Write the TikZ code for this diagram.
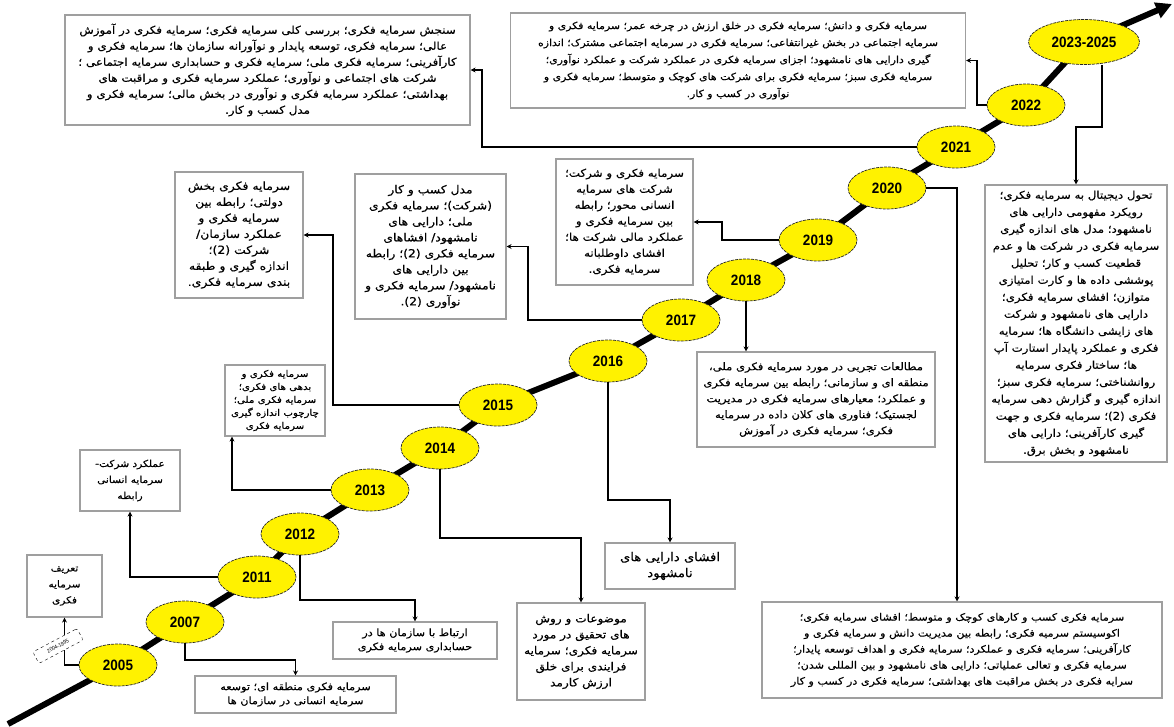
\documentclass[tikz,border=0pt]{standalone}
\usepackage{fontspec}
\TeXXeTstate=1
\newfontfamily\pfont[Script=Arabic,FakeStretch=1.1,FakeBold=0.4]{DejaVu Sans}
\newfontfamily\numfont[FakeStretch=0.9]{Liberation Sans}
\usetikzlibrary{shapes.geometric,arrows.meta}
\newcommand{\RL}[1]{\beginR#1\endR}
\begin{document}
\begin{tikzpicture}[x=1pt,y=-1pt,
  pbox/.style={draw=gray!75, line width=1.1pt, fill=white, align=center, inner sep=1pt},
  fs/.style 2 args={font=\pfont\fontsize{#1}{#2}\selectfont},
  yr/.style={ellipse, draw=black!85, dash pattern=on 3pt off 1pt, line width=0.7pt, fill=yellow,
     minimum width=78pt, minimum height=42pt, inner sep=0pt,
     font=\numfont\bfseries\fontsize{15}{15}\selectfont},
  conn/.style={draw, line width=1.3pt, -{Stealth[length=5pt,width=5pt]}},
  tl/.style={draw, line width=6pt, line join=round, -{Triangle[length=16pt,width=16pt]}}
]
\useasboundingbox (0,0) rectangle (1174,726);
% timeline points
\coordinate (p2005) at (118,665);
\coordinate (p2007) at (185,622);
\coordinate (p2011) at (257,577);
\coordinate (p2012) at (300,534);
\coordinate (p2013) at (370,490);
\coordinate (p2014) at (440,448);
\coordinate (p2015) at (498,405);
\coordinate (p2016) at (608,361);
\coordinate (p2017) at (681,320);
\coordinate (p2018) at (746,280);
\coordinate (p2019) at (818,240);
\coordinate (p2020) at (887,188);
\coordinate (p2021) at (956,147);
\coordinate (p2022) at (1026,105);
\coordinate (p2023) at (1084,42);
\coordinate (tstart) at (8,724);
\coordinate (tend) at (1172,4);
\draw[tl] (tstart) -- (p2005) -- (p2007) -- (p2011) -- (p2012) -- (p2013) -- (p2014) -- (p2015)
  -- (p2016) -- (p2017) -- (p2018) -- (p2019) -- (p2020) -- (p2021) -- (p2022) -- (p2023) -- (tend);
% ellipses
\node[yr] (e2005) at (p2005) {2005};
\node[yr] (e2007) at (p2007) {2007};
\node[yr] (e2011) at (p2011) {2011};
\node[yr] (e2012) at (p2012) {2012};
\node[yr] (e2013) at (p2013) {2013};
\node[yr] (e2014) at (p2014) {2014};
\node[yr] (e2015) at (p2015) {2015};
\node[yr] (e2016) at (p2016) {2016};
\node[yr] (e2017) at (p2017) {2017};
\node[yr] (e2018) at (p2018) {2018};
\node[yr] (e2019) at (p2019) {2019};
\node[yr] (e2020) at (p2020) {2020};
\node[yr] (e2021) at (p2021) {2021};
\node[yr] (e2022) at (p2022) {2022};
\node[yr, minimum width=111pt, minimum height=45pt] (e2023) at (p2023) {2023-2025};
% boxes
\node[pbox, fs={10.8}{16}, minimum width=405, minimum height=110] (B1) at (267.5,70) {%
\RL{سنجش سرمایه فکری؛ بررسی کلی سرمایه فکری؛ سرمایه فکری در آموزش}\\
\RL{عالی؛ سرمایه فکری، توسعه پایدار و نوآورانه سازمان ها؛ سرمایه فکری و}\\
\RL{کارآفرینی؛ سرمایه فکری ملی؛ سرمایه فکری و حسابداری سرمایه اجتماعی ؛}\\
\RL{شرکت های اجتماعی و نوآوری؛ عملکرد سرمایه فکری و مراقبت های}\\
\RL{بهداشتی؛ عملکرد سرمایه فکری و نوآوری در بخش مالی؛ سرمایه فکری و}\\
\RL{مدل کسب و کار.}};
\node[pbox, fs={9.9}{17}, minimum width=455, minimum height=95] (B2) at (738,60.5) {%
\RL{سرمایه فکری و دانش؛ سرمایه فکری در خلق ارزش در چرخه عمر؛ سرمایه فکری و}\\
\RL{سرمایه اجتماعی در بخش غیرانتفاعی؛ سرمایه فکری در سرمایه اجتماعی مشترک؛ اندازه}\\
\RL{گیری دارایی های نامشهود؛ اجزای سرمایه فکری در عملکرد شرکت و عملکرد نوآوری؛}\\
\RL{سرمایه فکری سبز؛ سرمایه فکری برای شرکت های کوچک و متوسط؛ سرمایه فکری و}\\
\RL{نوآوری در کسب و کار.}};
\node[pbox, fs={10.7}{17}, minimum width=182, minimum height=277] (BR) at (1076,323.5) {%
\RL{تحول دیجیتال به سرمایه فکری؛}\\
\RL{رویکرد مفهومی دارایی های}\\
\RL{نامشهود؛ مدل های اندازه گیری}\\
\RL{سرمایه فکری در شرکت ها و عدم}\\
\RL{قطعیت کسب و کار؛ تحلیل}\\
\RL{پوششی داده ها و کارت امتیازی}\\
\RL{متوازن؛ افشای سرمایه فکری؛}\\
\RL{دارایی های نامشهود و شرکت}\\
\RL{های زایشی دانشگاه ها؛ سرمایه}\\
\RL{فکری و عملکرد پایدار استارت آپ}\\
\RL{ها؛ ساختار فکری سرمایه}\\
\RL{روانشناختی؛ سرمایه فکری سبز؛}\\
\RL{اندازه گیری و گزارش دهی سرمایه}\\
\RL{فکری (2)؛ سرمایه فکری و جهت}\\
\RL{گیری کارآفرینی؛ دارایی های}\\
\RL{نامشهود و بخش برق.}};
\node[pbox, fs={11.3}{16}, minimum width=128, minimum height=126] (B2015) at (239,235) {%
\RL{سرمایه فکری بخش}\\
\RL{دولتی؛ رابطه بین}\\
\RL{سرمایه فکری و}\\
\RL{عملکرد سازمان/}\\
\RL{شرکت (2)؛}\\
\RL{اندازه گیری و طبقه}\\
\RL{بندی سرمایه فکری.}};
\node[pbox, fs={11.2}{16}, minimum width=151, minimum height=145] (B2017) at (430.5,246.5) {%
\RL{مدل کسب و کار}\\
\RL{(شرکت)؛ سرمایه فکری}\\
\RL{ملی؛ دارایی های}\\
\RL{نامشهود/ افشاهای}\\
\RL{سرمایه فکری (2)؛ رابطه}\\
\RL{بین دارایی های}\\
\RL{نامشهود/ سرمایه فکری و}\\
\RL{نوآوری (2).}};
\node[pbox, fs={10.8}{16}, minimum width=137, minimum height=126] (B2019) at (624.5,222) {%
\RL{سرمایه فکری و شرکت؛}\\
\RL{شرکت های سرمایه}\\
\RL{انسانی محور؛ رابطه}\\
\RL{بین سرمایه فکری و}\\
\RL{عملکرد مالی شرکت ها؛}\\
\RL{افشای داوطلبانه}\\
\RL{سرمایه فکری.}};
\node[pbox, fs={10.5}{16}, minimum width=238, minimum height=95] (B2018) at (816,399.5) {%
\RL{مطالعات تجربی در مورد سرمایه فکری ملی،}\\
\RL{منطقه ای و سازمانی؛ رابطه بین سرمایه فکری}\\
\RL{و عملکرد؛ معیارهای سرمایه فکری در مدیریت}\\
\RL{لجستیک؛ فناوری های کلان داده در سرمایه}\\
\RL{فکری؛ سرمایه فکری در آموزش}};
\node[pbox, fs={9.3}{13}, minimum width=100, minimum height=71] (B2013) at (275,400.5) {%
\RL{سرمایه فکری و}\\
\RL{بدهی های فکری؛}\\
\RL{سرمایه فکری ملی؛}\\
\RL{چارچوب اندازه گیری}\\
\RL{سرمایه فکری}};
\node[pbox, fs={9.6}{16}, minimum width=100, minimum height=61] (B2011) at (130,480.5) {%
\RL{عملکرد شرکت-}\\
\RL{سرمایه انسانی}\\
\RL{رابطه}};
\node[pbox, fs={9.6}{16}, minimum width=75, minimum height=62] (B2005) at (64.5,586) {%
\RL{تعریف}\\
\RL{سرمایه}\\
\RL{فکری}};
\node[pbox, fs={10.2}{14}, minimum width=164, minimum height=37] (B2012) at (415,640.5) {%
\RL{ارتباط با سازمان ها در}\\
\RL{حسابداری سرمایه فکری}};
\node[pbox, fs={10.2}{14}, minimum width=201, minimum height=37] (B2007) at (295.5,694.5) {%
\RL{سرمایه فکری منطقه ای؛ توسعه}\\
\RL{سرمایه انسانی در سازمان ها}};
\node[pbox, fs={11}{16}, minimum width=128, minimum height=97] (B2014) at (581,651.5) {%
\RL{موضوعات و روش}\\
\RL{های تحقیق در مورد}\\
\RL{سرمایه فکری؛ سرمایه}\\
\RL{فرایندی برای خلق}\\
\RL{ارزش کارمد}};
\node[pbox, fs={12}{16}, minimum width=130, minimum height=46] (B2016) at (670,566) {%
\RL{افشای دارایی های}\\
\RL{نامشهود}};
\node[pbox, fs={10.1}{16}, minimum width=400, minimum height=96] (B2020) at (962,650) {%
\RL{سرمایه فکری کسب و کارهای کوچک و متوسط؛ افشای سرمایه فکری؛}\\
\RL{اکوسیستم سرمیه فکری؛ رابطه بین مدیریت دانش و سرمایه فکری و}\\
\RL{کارآفرینی؛ سرمایه فکری و عملکرد؛ سرمایه فکری و اهداف توسعه پایدار؛}\\
\RL{سرمایه فکری و تعالی عملیاتی؛ دارایی های نامشهود و بین المللی شدن؛}\\
\RL{سرایه فکری در بخش مراقبت های بهداشتی؛ سرمایه فکری در کسب و کار}};
% connectors
\draw[conn] (e2005.west) -| (B2005.south);
\node[draw, dashed, rounded corners=2pt, fill=white, rotate=28, inner sep=1.5pt,
  minimum width=50pt, minimum height=13pt, font=\numfont\fontsize{5.5}{6}\selectfont] (lab) at (58,646) {2004-1995};
\draw[conn] (e2007.south) -- (185,660) -| (B2007.north);
\draw[conn] (e2011.west) -| (B2011.south);
\draw[conn] (e2012.south) -- (300,600) -| (B2012.north);
\draw[conn] (e2013.west) -| ([xshift=-43pt]B2013.south);
\draw[conn] (e2014.south) -- (440,538) -| (B2014.north);
\draw[conn] (e2015.west) -- (333,405) |- (B2015.east);
\draw[conn] (e2016.south) -- (608,500) -| (B2016.north);
\draw[conn] (e2017.west) -- (528,320) |- (B2017.east);
\draw[conn] (e2018.south) -- (e2018.south |- B2018.north);
\draw[conn] (e2019.west) -- (722,240) |- (B2019.east);
\draw[conn] (e2020.east) -| ([xshift=-5pt]B2020.north);
\draw[conn] (e2021.west) -- (482,147) |- (B1.east);
\draw[conn] (e2022.west) -- (977,105) |- (B2.east);
\draw[conn] ([xshift=18pt]e2023.south) -- (1102,127) -| (BR.north);
\end{tikzpicture}
\end{document}
